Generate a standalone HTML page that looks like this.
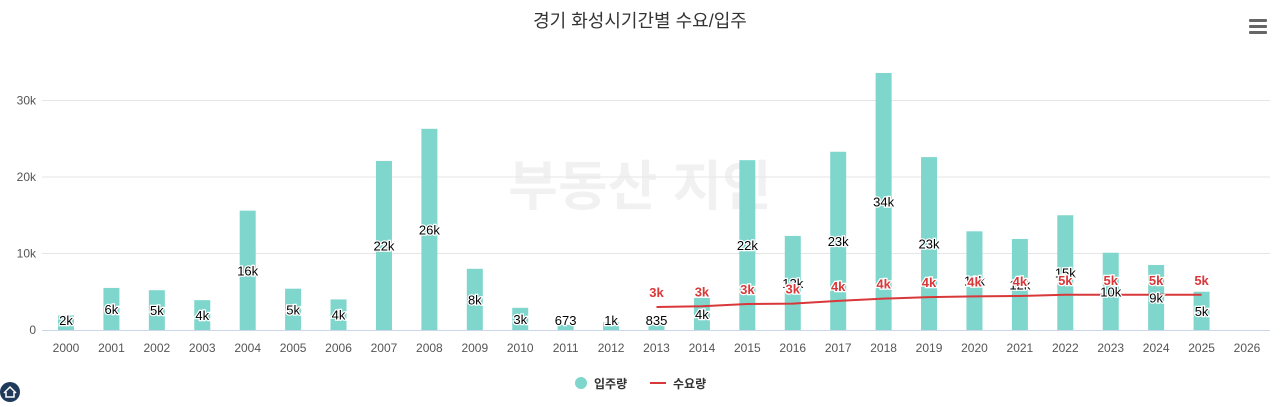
<!DOCTYPE html>
<html><head><meta charset="utf-8">
<style>
body{margin:0;background:#fff;width:1280px;height:402px;overflow:hidden;font-family:"Liberation Sans","Noto Sans CJK KR",sans-serif;}
svg text{font-family:"Liberation Sans","Noto Sans CJK KR",sans-serif;}
</style></head>
<body>
<svg id="c" width="1280" height="402">
  <text x="640" y="27" text-anchor="middle" font-size="18" fill="#333">경기 화성시기간별 수요/입주</text>
  <g>
    <rect x="1249" y="19" width="18" height="3" rx="1" fill="#666"/>
    <rect x="1249" y="25" width="18" height="3" rx="1" fill="#666"/>
    <rect x="1249" y="31" width="18" height="3" rx="1" fill="#666"/>
  </g>
  <text x="640" y="205" text-anchor="middle" font-size="54" font-weight="bold" fill="#000" opacity="0.05">부동산 지인</text>
  <g id="grid"></g><g id="bars"></g><g id="line"></g><g id="labels"></g>
  <g>
    <g>
      <circle cx="581" cy="383" r="6" fill="#7ed6cc"/>
      <text x="594" y="388" font-size="12" font-weight="bold" fill="#333">입주량</text>
    </g>
    <g>
      <rect x="650" y="382" width="16" height="2" fill="#d9383a"/>
      <text x="673" y="388" font-size="12" font-weight="bold" fill="#333">수요량</text>
    </g>
  </g>
  <g><circle cx="10" cy="392" r="10" fill="#1f3a5a"/><path d="M4 393 L10 387 L16 393 M6 392 V397 H14 V392" stroke="#fff" stroke-width="1.5" fill="none"/></g>
</svg>
<script>
const categories=["2000","2001","2002","2003","2004","2005","2006","2007","2008","2009","2010","2011","2012","2013","2014","2015","2016","2017","2018","2019","2020","2021","2022","2023","2024","2025","2026"];
const supply=[1900,5500,5200,3900,15600,5400,4000,22100,26300,8000,2900,673,1000,835,4200,22200,12300,23300,33600,22600,12900,11900,15000,10100,8500,5000,null];
const demand=[null,null,null,null,null,null,null,null,null,null,null,null,null,3000,3100,3400,3450,3800,4100,4300,4400,4450,4600,4600,4600,4600,null];
const yTicks=[0,10000,20000,30000];
const yTickLabels=["0","10k","20k","30k"];
const NS="http://www.w3.org/2000/svg";
const x0=66,step=(1247-66)/26,y0=330,pxPer=76.5/10000;
const X=i=>x0+i*step, Y=v=>y0-v*pxPer;
function mk(tag,attrs,parent,txt){const e=document.createElementNS(NS,tag);for(const k in attrs)e.setAttribute(k,attrs[k]);if(txt!==undefined)e.textContent=txt;parent.appendChild(e);return e;}
function fmt(v){return v<1000?String(v):Math.round(v/1000)+"k";}
const grid=document.getElementById('grid'),bars=document.getElementById('bars'),line=document.getElementById('line'),labels=document.getElementById('labels');
yTicks.forEach((t,i)=>{
  if(i>0){const g=mk('line',{x1:42,x2:1270,y1:Y(t),y2:Y(t),stroke:'#e6e6e6'},grid);
  
  }
  const l=mk('text',{x:36,y:Y(t)+4,'text-anchor':'end','font-size':12,fill:'#555'},grid,yTickLabels[i]);
  
  
});
const ax=mk('line',{x1:42,x2:1270,y1:y0+0.5,y2:y0+0.5,stroke:'#ccd6eb'},grid);


categories.forEach((c,i)=>{
  const t=mk('text',{x:X(i),y:352,'text-anchor':'middle','font-size':12,fill:'#555'},grid,c);
  
  
});
supply.forEach((v,i)=>{
  if(v==null)return;
  const r=mk('rect',{x:X(i)-8,y:Y(v),width:16,height:v*pxPer,fill:'#7ed6cc'},bars);
  
  
  const ly=Math.min(Y(v/2)+5,325);
  const t=mk('text',{x:X(i),y:ly,'text-anchor':'middle','font-size':13,fill:'#000',stroke:'#fff','stroke-width':2.5,'paint-order':'stroke'},labels,fmt(v));
  
  
});
let d="";
demand.forEach((v,i)=>{if(v==null)return;d+=(d?"L":"M")+X(i)+" "+Y(v)+" ";});
const p=mk('path',{d:d,stroke:'#d9383a','stroke-width':2,fill:'none'},line);


demand.forEach((v,i)=>{
  if(v==null)return;
  const t=mk('text',{x:X(i),y:Y(v)-10,'text-anchor':'middle','font-size':13,'font-weight':'bold',fill:'#d9383a',stroke:'#fff','stroke-width':2.5,'paint-order':'stroke'},labels,fmt(v));
  
  
});
</script>
</body></html>
